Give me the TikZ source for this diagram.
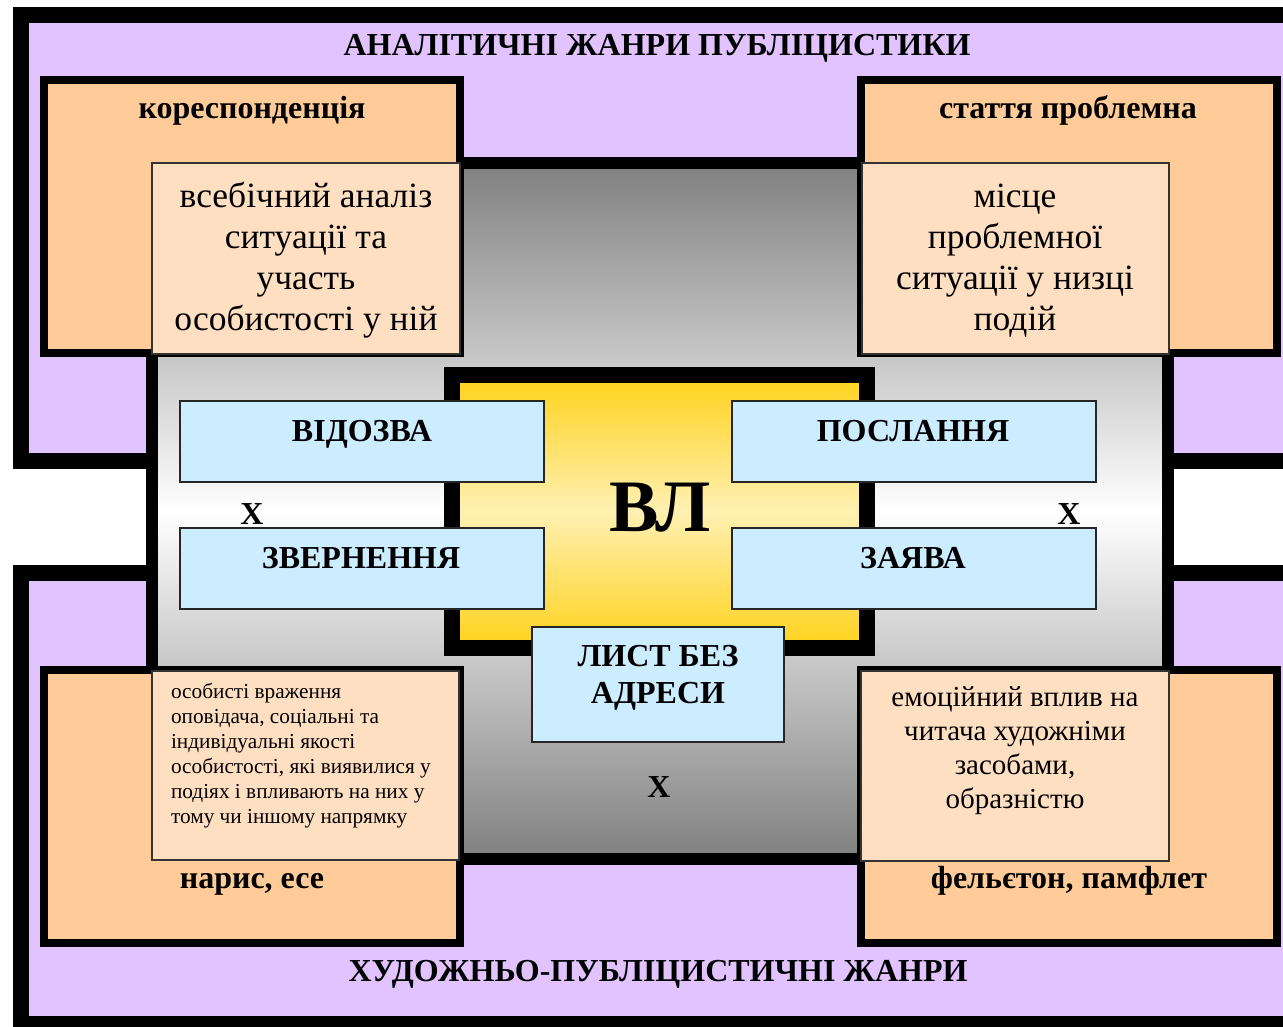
\documentclass[tikz,border=0pt]{standalone}
\usepackage{fontspec}
\setmainfont{Liberation Serif}
\definecolor{lilac}{RGB}{225,196,255}
\definecolor{apricot}{RGB}{255,204,153}
\definecolor{peach}{RGB}{255,223,194}
\definecolor{skyblue}{RGB}{204,236,255}
\definecolor{gold}{RGB}{255,210,26}
\definecolor{paleyellow}{RGB}{255,240,178}
\definecolor{steel}{RGB}{128,128,128}
\tikzset{
  plainbox/.style={rectangle, inner sep=0pt, outer sep=0pt},
  frame/.style={plainbox, draw=black, fill=lilac, line width=16pt},
  core/.style={plainbox, draw=black, line width=12pt, top color=steel, bottom color=steel, middle color=white},
  genre/.style={plainbox, draw=black, fill=apricot, line width=8pt, minimum width=416, minimum height=273},
  note/.style={plainbox, draw=black!80, fill=peach, line width=1.5pt},
  centre/.style={plainbox, draw=black, line width=16pt, top color=gold, bottom color=gold, middle color=paleyellow},
  form/.style={plainbox, draw=black!85, fill=skyblue, line width=1.5pt},
  heading/.style={font=\fontsize{32}{36}\selectfont\bfseries, anchor=base},
  genrename/.style={font=\fontsize{32}{36}\selectfont\bfseries, anchor=base},
  formname/.style={font=\fontsize{32}{37}\selectfont\bfseries, anchor=base, align=center},
  bignote/.style={font=\fontsize{35.5}{41}\selectfont, anchor=base, align=center},
}
\begin{document}
\begin{tikzpicture}[x=1pt,y=-1pt]
\useasboundingbox (0,0) rectangle (1283,1026);
\clip (0,0) rectangle (1283,1026);
\node[frame, minimum width=1279, minimum height=446] (analit) at (660.5,238) {};
\node[frame, minimum width=1279, minimum height=451] (hudozh) at (660.5,798.5) {};
\node[heading] (analit-t) at (657,55) {АНАЛІТИЧНІ ЖАНРИ ПУБЛІЦИСТИКИ};
\node[heading] (hudozh-t) at (658,981) {ХУДОЖНЬО-ПУБЛІЦИСТИЧНІ ЖАНРИ};
\node[core, minimum width=1016, minimum height=696] (core) at (660,511) {};
\foreach \x/\y/\n in {252/216.5/kor, 1069/216.5/stat, 252/806.5/nar, 1069/806.5/fel}
  \node[genre] (\n) at (\x,\y) {};
\node[genrename] (kor-t) at (252,118) {кореспонденція};
\node[genrename] (stat-t) at (1068,118) {стаття проблемна};
\node[genrename] (nar-t) at (252,888) {нарис, есе};
\node[genrename] (fel-t) at (1069,888) {фельєтон, памфлет};
\node[note, minimum width=308, minimum height=191] (kor-n) at (306,258.5) {};
\node[note, minimum width=307, minimum height=191] (stat-n) at (1015.5,258.5) {};
\node[note, minimum width=307, minimum height=189] (nar-n) at (305.5,765.5) {};
\node[note, minimum width=308, minimum height=190] (fel-n) at (1015,766) {};
\node[bignote] (kor-nt) at (306,330) {всебічний аналіз\\ситуації та\\участь\\особистості у ній};
\node[bignote] (stat-nt) at (1015,330) {місце\\проблемної\\ситуації у низці\\подій};
\node[font=\fontsize{21.3}{25}\selectfont, anchor=base west, align=left] (nar-nt) at (167.5,823)
  {особисті враження\\оповідача, соціальні та\\індивідуальні якості\\особистості, які виявилися у\\подіях і впливають на них у\\тому чи іншому напрямку};
\node[font=\fontsize{29}{34}\selectfont, anchor=base, align=center] (fel-nt) at (1015,808)
  {емоційний вплив на\\читача художніми\\засобами,\\образністю};
\node[centre, minimum width=415, minimum height=273] (vl) at (659.5,511.5) {};
\node[font=\fontsize{74}{80}\selectfont\bfseries, anchor=base] (vl-t) at (660,531) {ВЛ};
\node[form, minimum width=364, minimum height=81] (vidozva) at (362,441.5) {};
\node[form, minimum width=364, minimum height=81] (zvern) at (362,568.5) {};
\node[form, minimum width=364, minimum height=81] (poslan) at (914,441.5) {};
\node[form, minimum width=364, minimum height=81] (zayava) at (914,568.5) {};
\node[form, minimum width=252, minimum height=115] (lyst) at (658,684.5) {};
\node[formname] (vidozva-t) at (362,441) {ВІДОЗВА};
\node[formname] (zvern-t) at (361,568) {ЗВЕРНЕННЯ};
\node[formname] (poslan-t) at (913,441) {ПОСЛАННЯ};
\node[formname] (zayava-t) at (913,568) {ЗАЯВА};
\node[formname] (lyst-t) at (658,703) {ЛИСТ БЕЗ\\АДРЕСИ};
\foreach \x/\y/\n in {252/524/xa, 1069/524/xb, 659/797/xc}
  \node[formname] (\n) at (\x,\y) {X};
\end{tikzpicture}
\end{document}
